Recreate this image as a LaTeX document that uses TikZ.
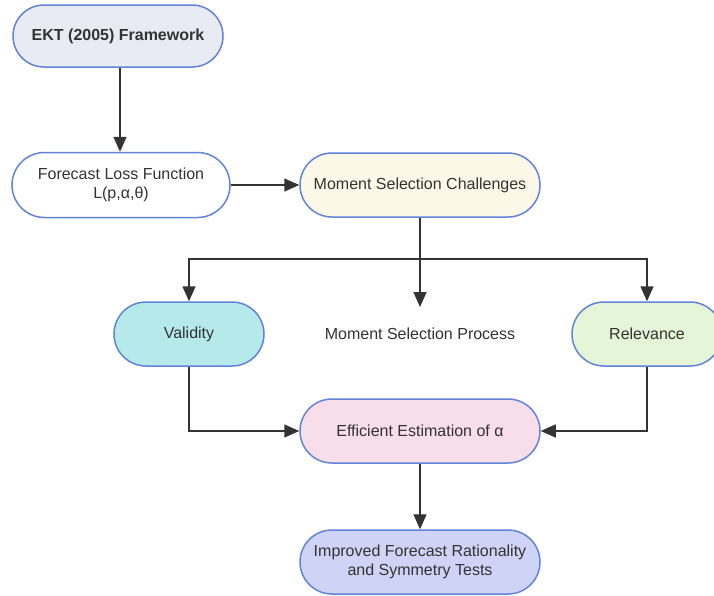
\documentclass[tikz,border=0pt]{standalone}
\usepackage{fontspec}
\setmainfont{Liberation Sans}
\usetikzlibrary{shapes.misc,arrows.meta}
\definecolor{bordc}{HTML}{6183D8}
\definecolor{linec}{HTML}{333333}
\definecolor{txtc}{HTML}{333333}
\definecolor{ektc}{HTML}{E8EBF3}
\definecolor{mscc}{HTML}{FCF8E7}
\definecolor{valc}{HTML}{B6EAEA}
\definecolor{relc}{HTML}{E5F5D7}
\definecolor{effc}{HTML}{F8DDEA}
\definecolor{impc}{HTML}{CFD3F6}
\tikzset{
  box/.style={rounded rectangle, draw=bordc, line width=1.5pt, text=txtc,
    font=\fontsize{16}{19}\selectfont, align=center, inner sep=0pt},
  conn/.style={draw=linec, line width=1.5pt, -{Triangle[length=15pt,width=13pt]}},
  plain/.style={draw=linec, line width=1.5pt},
}
\begin{document}
\begin{tikzpicture}[x=1pt,y=-1pt]
\useasboundingbox (0,0) rectangle (714,595);
\clip (0,0) rectangle (714,595);
\fill[white] (0,0) rectangle (714,595);
\node[box, fill=ektc, minimum width=210, minimum height=62, font=\fontsize{16}{19}\selectfont\bfseries] (ekt) at (118,36) {EKT (2005) Framework};
\node[box, fill=white, minimum width=218, minimum height=65] (flf) at (121,185) {Forecast Loss Function\\L(p,α,θ)};
\node[box, fill=mscc, minimum width=240, minimum height=64] (msc) at (420,185) {Moment Selection Challenges};
\node[box, fill=valc, minimum width=150, minimum height=64] (val) at (189,334) {Validity};
\node[text=txtc, font=\fontsize{16}{19}\selectfont] (msp) at (420,334) {Moment Selection Process};
\node[box, fill=relc, minimum width=150, minimum height=64] (rel) at (647,334) {Relevance};
\node[box, fill=effc, minimum width=240, minimum height=64] (eff) at (420,431) {Efficient Estimation of α};
\node[box, fill=impc, minimum width=240, minimum height=64] (imp) at (420,562) {Improved Forecast Rationality\\and Symmetry Tests};
\coordinate (br) at (420,259);
\draw[conn] (ekt.south -| 120,0) -- (flf.north -| 120,0);
\draw[conn] (flf.east) -- (msc.west);
\draw[plain] (msc.south) -- (br);
\draw[conn] (br) -| (val.north);
\draw[conn] (br) -| (rel.north);
\draw[conn] (br) -- (420,307);
\draw[conn] (val.south) |- (eff.west);
\draw[conn] (rel.south) |- (eff.east);
\draw[conn] (eff.south) -- (imp.north);
\end{tikzpicture}
\end{document}
